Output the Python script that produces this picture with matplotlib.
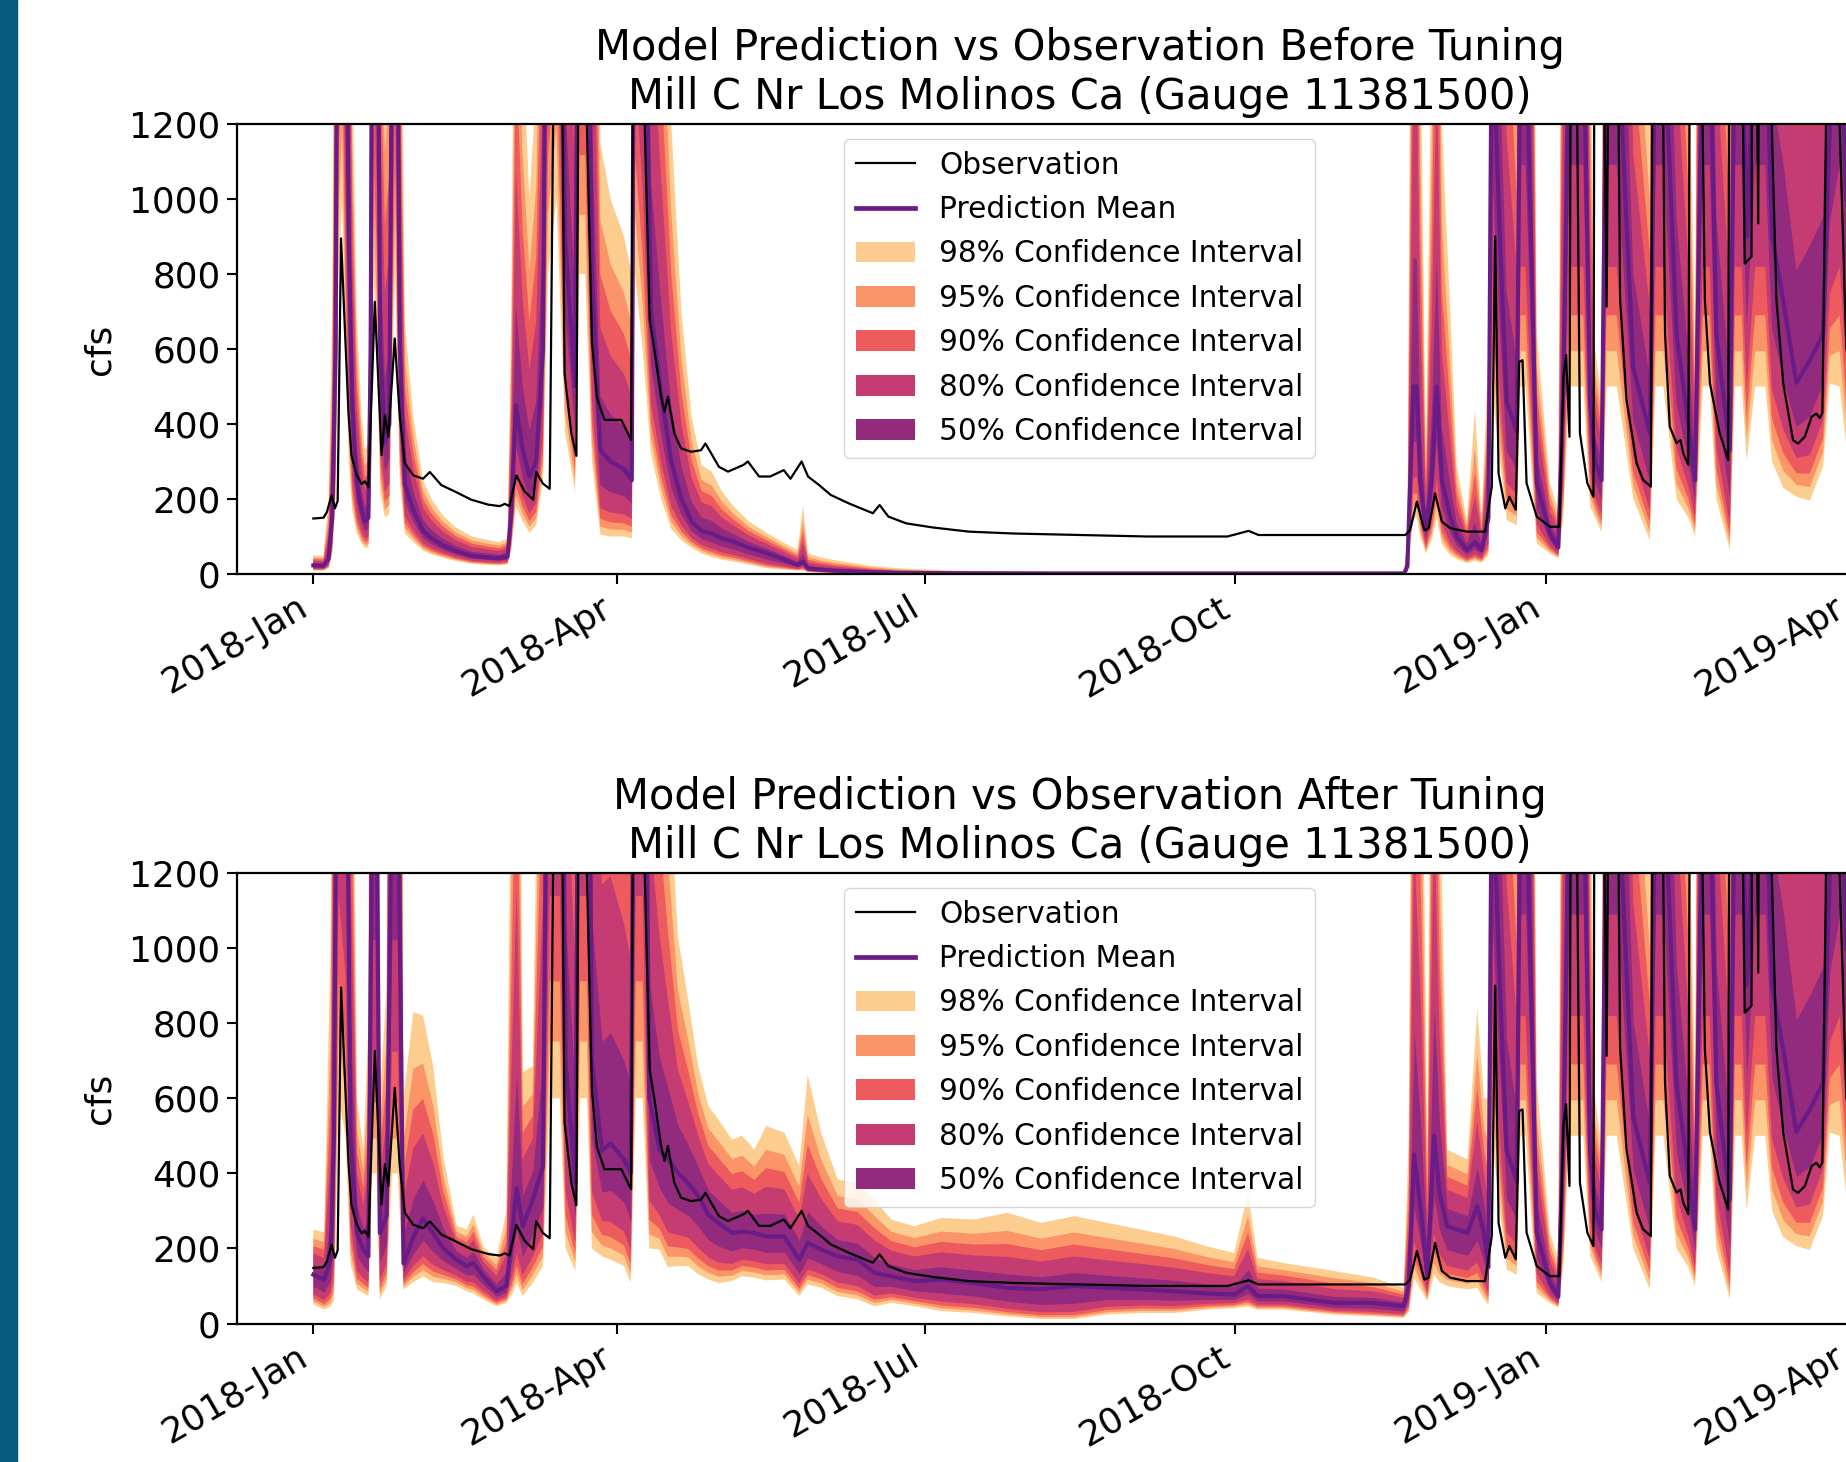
import numpy as np
import matplotlib
matplotlib.use("Agg")
import matplotlib.pyplot as plt
import matplotlib.dates as mdates
from matplotlib.patches import Patch, Rectangle
from matplotlib.lines import Line2D
from statistics import NormalDist

# ---- data (days since 2018-01-01, flow in cfs) ----
obs_days = [0, 3, 4, 5.4, 6.4, 7.2, 8.2, 9.4, 10.4, 11.3, 12.8, 14.3, 15.3, 16.3,
            18.2, 20.2, 21.2, 22.2, 24.1, 25.6, 27.1, 29.6, 32.5, 34.5, 37.9, 41.9,
            46.8, 51.8, 55.2, 56.7, 58.1, 60.1, 62.6, 65.1, 66, 68, 70, 71.3, 72.5,
            74.4, 76.4, 77.9, 79, 80.5, 82.5, 84, 86.2, 91.2, 94.1, 95.5, 97, 99.6,
            101, 103, 104, 105, 106.9, 108.9, 111.9, 114.8, 116.1, 117.8, 120.1,
            122.8, 127.4, 128.7, 132, 135.3, 139.3, 141.3, 144.6, 146.5, 149.8,
            153.2, 158.4, 165.7, 167.7, 170.3, 175.6, 183.5, 194.1, 207.3, 227.1,
            246.9, 270.7, 277, 279.9, 299.7, 323.4, 324.8, 326.8, 329, 330.3, 332.2,
            334.2, 336.7, 341.6, 347, 349, 350, 351, 353, 354.2, 356.1, 357.1, 358.1,
            359.3, 362.3, 366.2, 369, 370.2, 371, 372, 372.6, 374, 375.1, 377.3,
            379.1, 379.6, 382, 383, 384, 386, 387, 388.9, 391.9, 393.8, 396.1, 397,
            399.5, 400.3, 401.7, 403.7, 404.9, 405.7, 407.2, 408, 411, 412.1, 413.6,
            416.5, 419, 419.6, 423, 423.9, 425.9, 426.4, 427.9, 428.5, 431, 433.3,
            435.3, 438.2, 439.7, 441.7, 443.7, 445.1, 446.1, 446.9, 449.1, 451, 454]
obs_cfs = [148, 150, 165, 210, 175, 195, 895, 640, 430, 315, 265, 240, 247, 231,
           726, 317, 424, 366, 628, 419, 295, 263, 254, 272, 237, 220,
           198, 185, 181, 187, 181, 263, 220, 198, 272, 241, 227, 1500, 2600,
           535, 375, 315, 2200, 1400, 620, 470, 411, 411, 358, 2800, 1600, 677,
           597, 473, 433, 473, 375, 335, 326, 330, 348, 322, 286,
           273, 291, 300, 260, 260, 277, 254, 300, 260, 237,
           211, 189, 162, 184, 153, 135, 124, 113, 108, 104,
           100, 100, 115, 104, 104, 104, 117, 193, 117, 122, 215,
           140, 122, 113, 113, 233, 900, 268, 175, 206, 171, 566, 570,
           242, 153, 126, 126, 526, 584, 366, 2000, 1500, 375, 242,
           206, 2500, 1500, 713, 2000, 1800, 731, 464, 295, 251, 233, 2500,
           1500, 641, 393, 349, 357, 322, 291, 2500, 1500, 731, 509,
           375, 304, 2500, 1500, 828, 846, 2500, 935, 2500, 1500, 731,
           509, 357, 348, 366, 419, 428, 416, 429, 2000, 1500, 600]

# model before tuning: mean with 98% bounds, Jan - mid Dec 2018
before_days = [0, 3, 4.5, 5.6, 6.6, 7.5, 8.5, 9.5, 10.5, 11.5, 12.8, 14.3, 15.3, 16.3,
               17.0, 17.8, 18.8, 19.8, 21.2, 22.5, 23.3, 24.2, 25.6, 27.1, 29.6, 32.5,
               35, 38, 42, 47, 52, 55, 57.5, 58.6, 60, 62, 64, 66, 68, 69.5, 72, 74.5,
               77.5, 78.8, 80.5, 82.5, 85, 88, 92, 94.3, 95.3, 97.5, 100, 103, 106,
               109, 112, 115, 118, 121, 124.5, 129, 134.5, 139, 143.4, 145, 146.5,
               150, 154.4, 165, 173.6, 190, 220, 323, 324, 325.8, 326.8, 327.8, 329.5,
               331.2, 332.7, 334.2, 336.7, 338.6, 341.6, 344, 346]
before_mean = [23, 22, 40, 150, 600, 2500, 3000, 1800, 900, 450, 250, 170, 140, 150,
               600, 2500, 2000, 600, 350, 400, 1500, 2500, 600, 240, 170, 115,
               95, 78, 62, 48, 44, 42, 46, 160, 450, 330, 260, 300, 600, 2500, 3000, 900,
               500, 2500, 2500, 800, 330, 300, 280, 250, 2500, 2000, 700, 480, 300,
               200, 140, 115, 108, 95, 86, 70, 55, 40, 24, 33, 15,
               12, 9, 5, 3, 2, 1.5, 1.5, 20, 500, 500, 250, 117,
               250, 500, 250, 153, 100, 64, 85, 64]
before_lo98 = [9, 9, 15, 50, 200, 800, 1000, 600, 300, 170, 110, 80, 70, 70,
               200, 800, 600, 220, 150, 160, 500, 800, 250, 108, 85, 62,
               52, 44, 35, 27, 24, 23, 25, 60, 180, 140, 110, 130, 250, 800, 1000, 380,
               220, 800, 800, 300, 105, 100, 100, 95, 800, 600, 320, 200, 120,
               90, 70, 55, 45, 38, 33, 25, 15, 12, 9, 10, 5,
               3.5, 2, 1.5, 1, 0.7, 0.5, 0.5, 5, 150, 150, 100, 55,
               90, 150, 80, 50, 40, 29, 35, 30]
before_hi98 = [50, 48, 200, 700, 2500, 7000, 8000, 5000, 2800, 1400, 700, 420, 330, 350,
               2500, 7000, 6000, 2000, 1400, 1600, 5000, 7000, 2000, 670, 420, 250,
               200, 160, 125, 100, 90, 85, 95, 700, 2200, 1400, 1000, 1300, 2500, 7000, 8000, 3000,
               2000, 7000, 7000, 3000, 1150, 1000, 900, 800, 7000, 5000, 2800, 2000, 1200,
               700, 420, 290, 273, 220, 180, 140, 108, 85, 64, 184, 55,
               45, 37, 22, 15, 9, 6, 6, 100, 3000, 3000, 1500, 290,
               1500, 3000, 1200, 700, 290, 144, 437, 153]

# model after tuning: mean with 98% bounds, Jan - mid Dec 2018
after_days = [0, 3.2, 5.1, 6.1, 7.5, 9.5, 11, 12.9, 14.8, 16.3, 17.5, 18.7, 19.7, 21.7,
              23.3, 25, 26.7, 29.6, 32.5, 35.5, 38.5, 42.4, 45.4, 47.4, 50.3, 54.2, 57.2,
              59, 60.2, 62, 65, 68, 70, 73, 74.7, 77.6, 79, 81, 82.5, 85.5, 88, 92, 94,
              95.5, 97.5, 99.5, 102.5, 105, 108, 111, 114, 117, 120, 124, 127, 130.6,
              134.1, 139.5, 143.9, 146.4, 150.4, 155.3, 161.2, 166.2, 171.1, 178, 185.9,
              195.7, 205.6, 215.5, 225.3, 235.2, 245.1, 254.9, 264.8, 272.7, 276.8,
              279.6, 287.4, 302.2, 314, 322.9, 324.4, 326, 328, 329.9, 331.9, 333.5,
              335.8, 338.8, 341.8, 344.7, 346.7]
after_mean = [130, 117, 170, 500, 2500, 2000, 500, 241, 197, 179, 1500, 1500, 241, 286,
              1500, 1500, 160, 230, 280, 240, 200, 170, 153, 161, 126, 86, 100,
              250, 360, 259, 330, 418, 2500, 2500, 700, 374, 2500, 2500, 700, 460, 480, 437, 400,
              2500, 2500, 600, 463, 440, 401, 374, 340, 290, 268, 241, 245, 241,
              232, 232, 170, 215, 197, 179, 170, 135, 126, 113, 117,
              108, 95, 91, 100, 95, 91, 86, 80, 77, 100,
              73, 73, 55, 55, 46, 100, 450, 300, 126, 500, 350,
              259, 250, 241, 313, 241]
after_lo98 = [51, 37, 45, 60, 600, 500, 160, 90, 81, 73, 400, 400, 64, 100,
              400, 400, 90, 110, 125, 110, 108, 100, 86, 80, 64, 46, 55,
              80, 108, 73, 108, 152, 600, 600, 200, 140, 600, 600, 200, 179, 170, 153, 108,
              600, 600, 200, 197, 150, 153, 153, 131, 117, 108, 113, 126, 122,
              115, 117, 73, 104, 95, 73, 64, 46, 55, 46, 33,
              28, 19, 12, 12, 24, 28, 28, 37, 41, 45,
              37, 37, 24, 19, 15, 30, 120, 90, 60, 130, 110,
              100, 95, 91, 95, 64]
after_hi98 = [250, 243, 1000, 3000, 8000, 7000, 2500, 600, 463, 800, 6000, 6000, 600, 900,
              6000, 6000, 600, 830, 820, 685, 445, 261, 250, 290, 205, 175, 300,
              2000, 3000, 670, 685, 2500, 8000, 8000, 3000, 2000, 8000, 8000, 3000, 2500, 2500, 2200, 2000,
              8000, 8000, 2500, 2000, 1500, 1030, 862, 685, 579, 543, 490, 500, 463,
              526, 508, 420, 663, 508, 383, 374, 330, 277, 259, 281,
              277, 295, 268, 286, 268, 250, 232, 205, 188, 348,
              175, 161, 140, 122, 95, 500, 3000, 2000, 450, 3000, 1500,
              463, 450, 437, 839, 600]

# winter 2018-19: same in both runs
tail_days = [348, 349, 351.4, 353.4, 356.4, 357.5, 359, 362.3, 366.2, 368.7, 370.2, 372,
             376.1, 378.1, 379.6, 381.5, 383, 386, 390.9, 395.8, 397.5, 399.8, 403.7,
             407.2, 409.2, 411.5, 413.5, 415.5, 419.5, 421, 423, 424.5, 427, 430, 432,
             435.3, 439.2, 443.2, 447.1, 449.1, 452, 454]
tail_mean = [150, 1500, 900, 460, 380, 1500, 1500, 242, 108, 71, 500, 1500,
             1500, 460, 300, 250, 1500, 1500, 550, 375, 1500, 1500, 640,
             400, 250, 1500, 1500, 640, 330, 1500, 1500, 900, 1500, 1500, 900,
             730, 510, 570, 640, 1200, 1500, 1000]
tail_lo98 = [50, 500, 300, 144, 130, 500, 500, 81, 55, 42, 150, 500,
             500, 180, 150, 110, 500, 500, 200, 90, 500, 500, 200,
             150, 100, 500, 500, 200, 64, 500, 500, 300, 500, 500, 300,
             230, 206, 196, 286, 508, 500, 340]
tail_hi98 = [600, 5000, 3500, 2500, 1500, 5000, 5000, 643, 242, 170, 3000, 5000,
             5000, 1500, 600, 470, 5000, 5000, 2000, 1200, 5000, 5000, 2500,
             1500, 600, 5000, 5000, 2500, 1500, 5000, 5000, 3000, 5000, 5000, 3000,
             3000, 2500, 2500, 2500, 4000, 5000, 3500]

levels = [98, 95, 90, 80, 50]
level_colors = ["#fdcd90", "#fb9466", "#ee5b5e", "#c53c73", "#922a7d"]
mean_color = "#6a1c86"

titles = ["Model Prediction vs Observation Before Tuning\nMill C Nr Los Molinos Ca (Gauge 11381500)",
          "Model Prediction vs Observation After Tuning\nMill C Nr Los Molinos Ca (Gauge 11381500)"]

t0 = np.datetime64("2018-01-01T00:00")


def to_dates(days):
    return t0 + (np.asarray(days, float) * 1440).round().astype("timedelta64[m]")


W, H = 1846, 1462
fig = plt.figure(figsize=(W / 100, H / 100), dpi=100)
fig.add_artist(Rectangle((0, 0), 17 / W, 1, transform=fig.transFigure,
                         color="#05597d", zorder=0))

ax_top = fig.add_axes([236.7 / W, (H - 574) / H, 1686.3 / W, 450 / H])
ax_bot = fig.add_axes([236.7 / W, (H - 1323.5) / H, 1686.3 / W, 450.5 / H])

z98 = NormalDist().inv_cdf(0.99)
runs = [(before_days, before_mean, before_lo98, before_hi98),
        (after_days, after_mean, after_lo98, after_hi98)]

for ax, (d, m, lo, hi), title in zip([ax_top, ax_bot], runs, titles):
    days = np.array(list(d) + tail_days, float)
    mean = np.array(list(m) + tail_mean, float)
    lo98 = np.array(list(lo) + tail_lo98, float)
    hi98 = np.array(list(hi) + tail_hi98, float)
    x = to_dates(days)

    # inner bands from the 98% bounds, assuming a log-normal spread
    for lev, col in zip(levels, level_colors):
        k = NormalDist().inv_cdf(0.5 + lev / 200) / z98
        upper = mean * (hi98 / mean) ** k
        lower = mean * (lo98 / mean) ** k
        ax.fill_between(x, lower, upper, color=col, lw=0)
    ax.plot(x, mean, color=mean_color, lw=3)
    ax.plot(to_dates(obs_days), obs_cfs, color="black", lw=1.6)

    ax.set_ylim(0, 1200)
    ax.set_yticks(range(0, 1201, 200))
    ax.set_xlim(to_dates([-22.7])[0], to_dates([476.7])[0])
    ax.xaxis.set_major_locator(mdates.MonthLocator(bymonth=[1, 4, 7, 10]))
    ax.xaxis.set_major_formatter(mdates.DateFormatter("%Y-%b"))
    for lbl in ax.get_xticklabels():
        lbl.set_rotation(30)
        lbl.set_ha("right")
    ax.tick_params(labelsize=25.8, length=7.2, width=1.5, pad=4.5)
    for s in ax.spines.values():
        s.set_linewidth(1.6)
    ax.set_ylabel("cfs", fontsize=25.8, labelpad=9)
    ax.set_title(title, fontsize=30, pad=11)

    handles = [Line2D([], [], color="black", lw=1.6),
               Line2D([], [], color=mean_color, lw=3.4)]
    handles += [Patch(color=c, lw=0) for c in level_colors]
    labels = ["Observation", "Prediction Mean"] + \
        ["%d%% Confidence Interval" % lev for lev in levels]
    ax.legend(handles, labels, loc="upper center", fontsize=21.3,
              labelspacing=0.52)

fig.savefig("out.png", dpi=100)
